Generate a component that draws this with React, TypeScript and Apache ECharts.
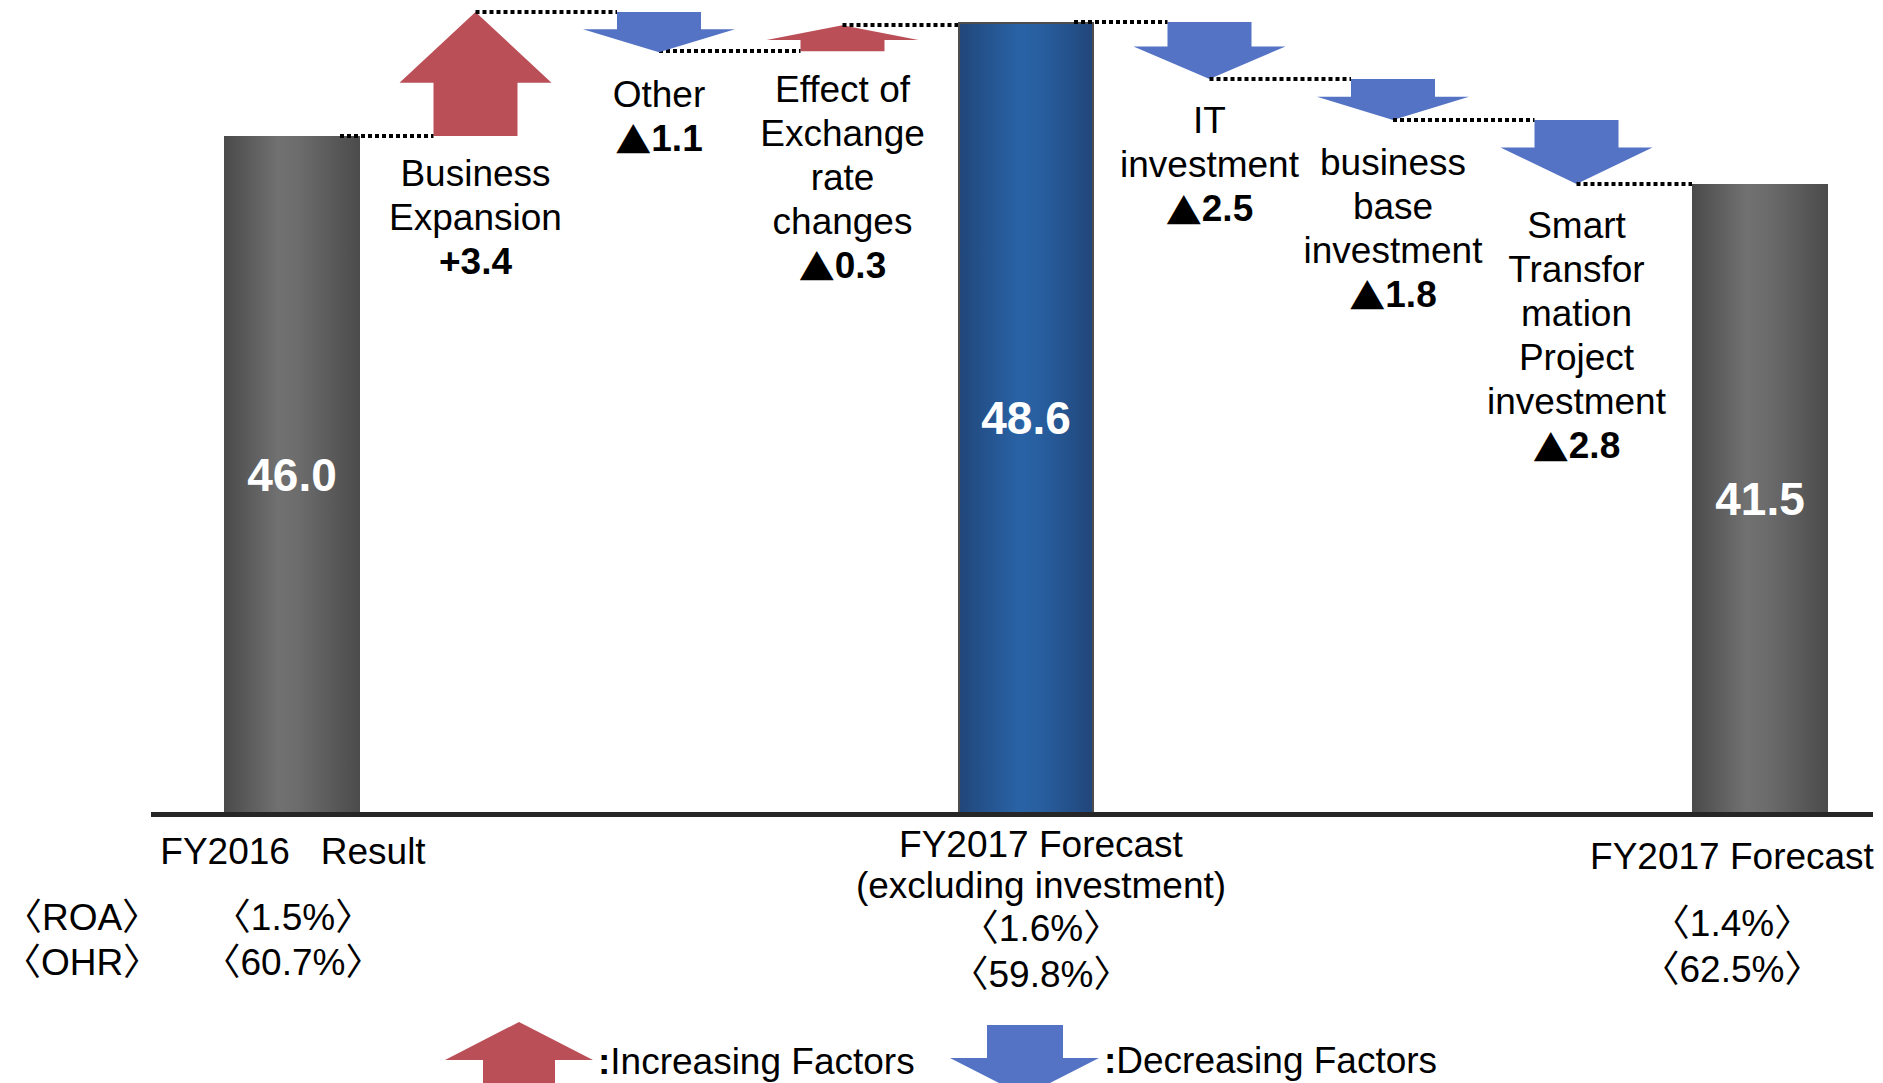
import React, { useEffect, useRef } from "react";
import * as echarts from "echarts";

// ---------------- data ----------------
const categories = [
  "FY2016 Result",
  "Business Expansion",
  "Other",
  "Effect of Exchange rate changes",
  "FY2017 Forecast (excluding investment)",
  "IT investment",
  "business base investment",
  "Smart Transformation Project investment",
  "FY2017 Forecast",
];
const totalPositions = [0, 4, 8];
const totalValues = [46.0, 48.6, 41.5];
const stepPositions = [1, 2, 3, 5, 6, 7];
const stepDeltas = [3.4, -1.1, 0.3, -2.5, -1.8, -2.8];
const stepDeltaLabels = ["+3.4", "▲1.1", "▲0.3", "▲2.5", "▲1.8", "▲2.8"];
const stepNameLines = [
  ["Business", "Expansion"],
  ["Other"],
  ["Effect of", "Exchange", "rate", "changes"],
  ["IT", "investment"],
  ["business", "base", "investment"],
  ["Smart", "Transfor", "mation", "Project", "investment"],
];
const totalCaptionLines = [
  ["FY2016   Result"],
  ["FY2017 Forecast", "(excluding investment)"],
  ["FY2017 Forecast"],
];
const rowHeaders = ["ROA", "OHR"];
const roaValues = ["1.5%", "1.6%", "1.4%"];
const ohrValues = ["60.7%", "59.8%", "62.5%"];
const legendNames = ["Increasing Factors", "Decreasing Factors"];

// ---------------- layout / style ----------------
const W = 1883;
const H = 1083;
const PLOT_BOTTOM = 814;
const FONT = '"Liberation Sans", Arial, "Noto Sans CJK JP", sans-serif';
const CJK = '"Noto Sans CJK JP", "Liberation Sans", sans-serif';
const RED = "#BB4F57";
const BLUE = "#5473C4";
const BAR_WIDTH = 136;
const SHAFT = 42;
const HEAD = 76;
const HEAD_RATIO = 0.57;
// the source slide is not drawn to scale: hidden value scales per section
const yScales = [
  { min: 27.4, max: 49.73 },
  { min: 13.9, max: 49.56 },
  { min: 39.5, max: 48.89 },
];
const totalScale = [0, 1, 1];
const stepScale = [0, 0, 2, 1, 1, 1];
const captionX = [293, 1041, 1732];
const captionY = [[851], [844, 885], [856]];
const roaY = [917, 928, 923];
const ohrY = [962, 974, 969];
const headerX = 82;

const UP_ICON = "path://M74,0 L148,38 L110,38 L110,78 L38,78 L38,38 L0,38 Z";
const DOWN_ICON = "path://M37,0 L113,0 L113,33 L149,33 L74.5,71 L0,33 L37,33 Z";

const grayFill = {
  type: "linear", x: 0, y: 0, x2: 1, y2: 0,
  colorStops: [
    { offset: 0, color: "#4a4a4a" },
    { offset: 0.4, color: "#717171" },
    { offset: 0.55, color: "#6c6c6c" },
    { offset: 1, color: "#4b4b4b" },
  ],
};
const blueFill = {
  type: "linear", x: 0, y: 0, x2: 1, y2: 0,
  colorStops: [
    { offset: 0, color: "#21467a" },
    { offset: 0.45, color: "#2963a6" },
    { offset: 0.6, color: "#285fa0" },
    { offset: 1, color: "#21467a" },
  ],
};

// waterfall steps from the data
type Step = { k: number; pos: number; start: number; end: number };
const steps: Step[] = [];
{
  let running = totalValues[0];
  for (let i = 0; i < categories.length; i++) {
    const t = totalPositions.indexOf(i);
    if (t >= 0) {
      running = totalValues[t];
      continue;
    }
    const k = stepPositions.indexOf(i);
    const start = running;
    const end = Math.round((running + stepDeltas[k]) * 10) / 10;
    steps.push({ k, pos: i, start, end });
    running = end;
  }
}

function dotted(x1: number, x2: number, y: number) {
  const yy = Math.round(y);
  return {
    type: "line",
    shape: { x1, y1: yy, x2, y2: yy },
    style: { stroke: "#000", lineWidth: 4, lineDash: [4, 3] },
  };
}

function deltaRich(label: string) {
  if (label.charAt(0) === "▲") return `{t|▲}{b|${label.slice(1)}}`;
  return `{b|${label}}`;
}

function renderStep(_params: any, api: any) {
  const pos = api.value(0);
  const start = api.value(1);
  const end = api.value(2);
  const k = api.value(3);
  const p0 = api.coord([pos, start]);
  const cx = p0[0];
  const yS = p0[1];
  const yE = api.coord([pos, end])[1];
  const up = end > start;
  const head = Math.abs(yE - yS) * HEAD_RATIO;
  const color = api.visual("color");
  const points = up
    ? [
        [cx, yE], [cx + HEAD, yE + head], [cx + SHAFT, yE + head], [cx + SHAFT, yS],
        [cx - SHAFT, yS], [cx - SHAFT, yE + head], [cx - HEAD, yE + head],
      ]
    : [
        [cx - SHAFT, yS], [cx + SHAFT, yS], [cx + SHAFT, yE - head], [cx + HEAD, yE - head],
        [cx, yE], [cx - HEAD, yE - head], [cx - SHAFT, yE - head],
      ];
  const children: any[] = [{ type: "polygon", shape: { points }, style: { fill: color } }];
  const prevIsTotal = totalPositions.indexOf(pos - 1) >= 0;
  const prevX = api.coord([pos - 1, start])[0] + (prevIsTotal ? 48 : 0);
  children.push(dotted(prevX, cx - SHAFT, yS));
  if (totalPositions.indexOf(pos + 1) >= 0) {
    const nx = api.coord([pos + 1, end])[0] - BAR_WIDTH / 2;
    children.push(dotted(cx, nx, yE));
  }
  const lowY = up ? yS : yE;
  const lines = stepNameLines[k].map((s) => `{n|${s}}`);
  lines.push(deltaRich(stepDeltaLabels[k]));
  children.push({
    type: "text",
    x: cx,
    y: lowY + (up ? 16 : 20),
    style: {
      text: lines.join("\n"),
      align: "center",
      verticalAlign: "top",
      fill: "#000",
      fontSize: 37,
      fontFamily: FONT,
      rich: {
        n: { fontSize: 37, fontFamily: FONT, lineHeight: 44, fill: "#000" },
        b: { fontSize: 37, fontFamily: FONT, fontWeight: "bold", lineHeight: 44, fill: "#000" },
        t: { fontSize: 36, fontFamily: CJK, lineHeight: 44, fill: "#000" },
      },
    },
  });
  return { type: "group", children };
}

function textEl(text: string, x: number, y: number) {
  return {
    type: "text",
    x,
    y,
    z: 100,
    style: {
      text,
      fill: "#000",
      fontSize: 37,
      fontFamily: FONT,
      align: "center",
      verticalAlign: "middle",
    },
  };
}

function buildOption(): any {
  const barSeries = [0, 1].map((scale) => ({
    type: "bar",
    name: scale === 0 ? "Result" : "Forecast",
    yAxisIndex: scale,
    barWidth: BAR_WIDTH,
    barGap: "-100%",
    z: 2,
    data: categories.map((_, i) => {
      const t = totalPositions.indexOf(i);
      if (t < 0 || totalScale[t] !== scale) return "-";
      return {
        value: totalValues[t],
        itemStyle:
          t === 1
            ? { color: blueFill, borderColor: "#4d4d4d", borderWidth: 2 }
            : { color: grayFill },
      };
    }),
    label: {
      show: true,
      position: "inside",
      color: "#fff",
      fontSize: 46,
      fontWeight: "bold",
      fontFamily: FONT,
      formatter: (p: any) => Number(p.value).toFixed(1),
    },
  }));

  const groups = [
    { inc: true, scale: 0 },
    { inc: true, scale: 2 },
    { inc: false, scale: 0 },
    { inc: false, scale: 1 },
  ];
  const stepSeries = groups.map((g) => ({
    type: "custom",
    name: g.inc ? legendNames[0] : legendNames[1],
    yAxisIndex: g.scale,
    itemStyle: { color: g.inc ? RED : BLUE },
    renderItem: renderStep,
    clip: false,
    z: 3,
    encode: { x: 0, y: [1, 2] },
    data: steps
      .filter((s) => s.end > s.start === g.inc && stepScale[s.k] === g.scale)
      .map((s) => [s.pos, s.start, s.end, s.k]),
  }));

  const graphics: any[] = [
    {
      type: "line",
      z: 100,
      shape: { x1: 151, y1: PLOT_BOTTOM + 0.5, x2: 1873, y2: PLOT_BOTTOM + 0.5 },
      style: { stroke: "#262626", lineWidth: 5 },
    },
  ];
  totalCaptionLines.forEach((lines, t) => {
    lines.forEach((s, j) => graphics.push(textEl(s, captionX[t], captionY[t][j])));
    graphics.push(textEl(`\u3008${roaValues[t]}\u3009`, captionX[t], roaY[t]));
    graphics.push(textEl(`\u3008${ohrValues[t]}\u3009`, captionX[t], ohrY[t]));
  });
  graphics.push(textEl(`\u3008${rowHeaders[0]}\u3009`, headerX, roaY[0]));
  graphics.push(textEl(`\u3008${rowHeaders[1]}\u3009`, headerX, ohrY[0]));

  const legendText = {
    color: "#000",
    fontSize: 37,
    fontFamily: FONT,
    rich: { c: { fontSize: 37, fontFamily: FONT, fontWeight: "bold", color: "#000" } },
  };

  return {
    animation: false,
    backgroundColor: "#fff",
    grid: { left: 200.25, right: 31.25, top: 0, bottom: H - PLOT_BOTTOM },
    xAxis: { type: "category", data: categories, show: false },
    yAxis: yScales.map((s) => ({
      type: "value",
      min: s.min,
      max: s.max,
      show: false,
      splitLine: { show: false },
    })),
    legend: [
      {
        left: 445,
        top: 1022,
        padding: 0,
        itemWidth: 148,
        itemHeight: 78,
        selectedMode: false,
        data: [{ name: legendNames[0], icon: UP_ICON }],
        formatter: (n: string) => `{c|:}${n}`,
        textStyle: legendText,
      },
      {
        left: 950,
        top: 1025,
        padding: 0,
        itemWidth: 149,
        itemHeight: 71,
        selectedMode: false,
        data: [{ name: legendNames[1], icon: DOWN_ICON }],
        formatter: (n: string) => `{c|:}${n}`,
        textStyle: legendText,
      },
    ],
    series: [...barSeries, ...stepSeries],
    graphic: { elements: graphics },
  };
}

export default function App() {
  const ref = useRef<HTMLDivElement>(null);
  useEffect(() => {
    if (!ref.current) return;
    const chart = echarts.init(ref.current, null, { renderer: "svg" });
    chart.setOption(buildOption());
    return () => chart.dispose();
  }, []);
  return (
    <div
      ref={ref}
      style={{ position: "fixed", left: 0, top: 0, width: W, height: H, background: "#fff" }}
    />
  );
}
